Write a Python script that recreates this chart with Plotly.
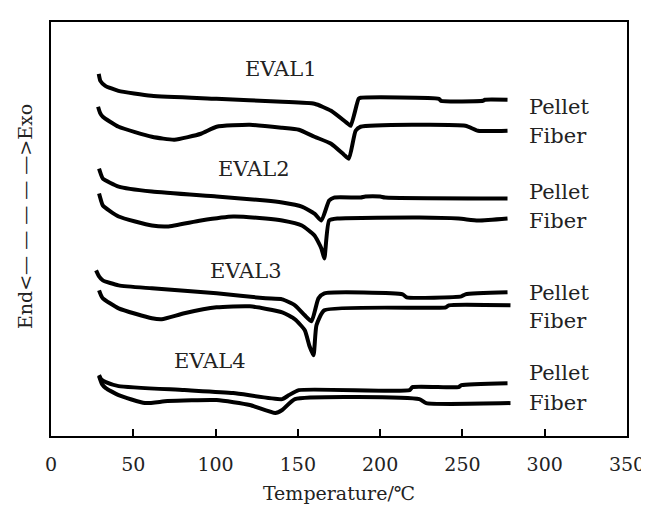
import plotly.graph_objects as go

# ---- data (temperature in °C, heat flow in arbitrary offset units) ----
t_e1_pellet = [29, 30, 33, 41, 61, 100.6, 140.5, 160.1, 170.2, 180.4, 182.1, 186.9, 188.1, 235.7, 236.9, 262.5, 263.7, 277.4]
h_e1_pellet = [363, 356, 351, 346, 341, 338, 335, 333, 326, 313, 311, 338, 339, 338, 336, 336, 337, 337]

t_e1_fiber = [28.6, 29.8, 31.5, 41.1, 61.3, 75, 91.1, 100.6, 120.8, 140.5, 150.6, 160.1, 170.2, 178, 181, 185.1, 188.1, 251.8, 259.5, 277.4]
h_e1_fiber = [330, 324, 320, 310, 300, 297, 303, 310, 312, 309, 307, 300, 293, 282, 278, 306, 310, 311, 306, 306]

t_e2_pellet = [29.2, 30.4, 31.5, 41.1, 61.3, 100.6, 130.4, 140.5, 152.4, 160.1, 164.3, 169, 172, 188.1, 191, 200, 203, 277.4]
h_e2_pellet = [268, 262, 258, 250, 245, 240, 236, 234, 230, 223, 216, 236, 239, 239, 240, 240, 239, 238]

t_e2_fiber = [29.2, 30.4, 31.5, 41.1, 61.3, 70.8, 91.1, 110.7, 130.4, 140.5, 152.4, 160.1, 164.3, 166.1, 169, 174.4, 223.8, 247.6, 259.5, 277.4]
h_e2_fiber = [243, 236, 231, 220, 211, 210, 216, 220, 218, 216, 211, 201, 188, 178, 216, 218, 219, 218, 216, 218]

t_e3_pellet = [27.4, 29.2, 31.5, 41.1, 61.3, 100.6, 130.4, 140.5, 148.2, 154.2, 158.3, 162.5, 166.1, 213.7, 216.1, 249.4, 251.8, 277.4]
h_e3_pellet = [166, 160, 156, 151, 148, 143, 138, 137, 131, 121, 115, 138, 143, 142, 139, 140, 142, 144]

t_e3_fiber = [29.2, 30.4, 31.5, 41.1, 61.3, 67.3, 81, 100.6, 120.8, 140.5, 148.2, 154.2, 157.1, 159.5, 161.3, 166.1, 239.9, 241.7, 279.2]
h_e3_fiber = [146, 141, 138, 128, 118, 117, 123, 129, 130, 124, 117, 106, 90, 81, 111, 126, 129, 131, 131]

t_e4_pellet = [29.2, 30.4, 33.3, 41.1, 81, 110.7, 140.5, 144.6, 150.6, 217.9, 219.6, 247.6, 249.4, 277.4]
h_e4_pellet = [61, 57, 54, 50, 46, 43, 37, 41, 46, 46, 49, 49, 51, 53]

t_e4_fiber = [29.2, 31, 33.3, 41.1, 57.1, 70.8, 100.6, 120.8, 136.3, 140.5, 148.2, 223.8, 228, 279.2]
h_e4_fiber = [60, 52, 48, 41, 33, 35, 36, 31, 23, 26, 37, 37, 33, 33]

sample_names = ["EVAL1", "EVAL2", "EVAL3", "EVAL4"]
sample_label_t = [139.9, 123.2, 118.5, 96.4]
sample_label_h = [368, 268, 165, 75]

form_names = ["Pellet", "Fiber", "Pellet", "Fiber", "Pellet", "Fiber", "Pellet", "Fiber"]
form_label_h = [330, 301, 245, 216, 143, 115, 63, 33]
form_label_t = 289.0

x_ticks = [0, 50, 100, 150, 200, 250, 300, 350]

curves = [
    (t_e1_pellet, h_e1_pellet), (t_e1_fiber, h_e1_fiber),
    (t_e2_pellet, h_e2_pellet), (t_e2_fiber, h_e2_fiber),
    (t_e3_pellet, h_e3_pellet), (t_e3_fiber, h_e3_fiber),
    (t_e4_pellet, h_e4_pellet), (t_e4_fiber, h_e4_fiber),
]

FONT = "DejaVu Serif"
TXT = "#222"

fig = go.Figure()
for t, h in curves:
    fig.add_trace(go.Scatter(
        x=t, y=h, mode="lines",
        line=dict(color="black", width=4, shape="spline", smoothing=0.5),
        showlegend=False, hoverinfo="skip",
    ))

for name, tx, hy in zip(sample_names, sample_label_t, sample_label_h):
    fig.add_annotation(x=tx, y=hy, text=name, showarrow=False,
                       xanchor="center", yanchor="middle",
                       font=dict(family=FONT, size=21, color=TXT))

for name, hy in zip(form_names, form_label_h):
    fig.add_annotation(x=form_label_t, y=hy, text=name, showarrow=False,
                       xanchor="left", yanchor="middle",
                       font=dict(family=FONT, size=21, color=TXT))

fig.add_annotation(xref="paper", yref="paper", x=-0.046, y=0.53,
                   text="End<— — — — —>Exo", textangle=-90, showarrow=False,
                   xanchor="center", yanchor="middle",
                   font=dict(family=FONT, size=19, color=TXT))

fig.update_layout(
    width=649, height=506,
    margin=dict(l=43, r=17, t=13, b=78),
    plot_bgcolor="white", paper_bgcolor="white",
    xaxis=dict(range=[0, 350], tickvals=x_ticks, ticks="inside", ticklen=7,
               tickwidth=2, tickcolor="black", showline=True, mirror=True,
               linecolor="black", linewidth=2, showgrid=False, zeroline=False,
               ticklabelstandoff=10, ticklabeloverflow="allow",
               tickfont=dict(family=FONT, size=19, color=TXT),
               title=dict(text="Temperature/℃", standoff=13,
                          font=dict(family=FONT, size=19, color=TXT))),
    yaxis=dict(range=[0, 415], showticklabels=False, ticks="",
               showline=True, mirror=True, linecolor="black", linewidth=2,
               showgrid=False, zeroline=False),
)

fig.write_html("out.html")
